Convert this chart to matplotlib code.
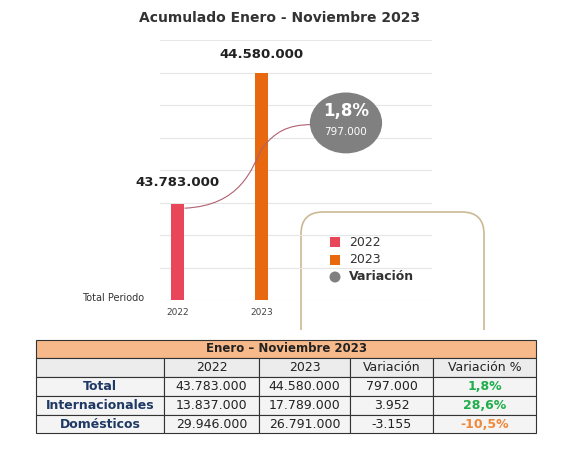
import matplotlib.pyplot as plt
from matplotlib.patches import FancyBboxPatch, Ellipse, Rectangle, PathPatch
from matplotlib.path import Path
import numpy as np

years = ['2022', '2023']
totals = [43783000, 44580000]
bar_colors = ['#e8475a', '#e8680f']
variation = 797000
variation_pct = '1,8%'

row_labels = ['Total', 'Internacionales', 'Domésticos']
col_labels = ['2022', '2023', 'Variación', 'Variación %']
v2022 = ['43.783.000', '13.837.000', '29.946.000']
v2023 = ['44.580.000', '17.789.000', '26.791.000']
var_abs = ['797.000', '3.952', '-3.155']
var_pct = ['1,8%', '28,6%', '-10,5%']
pct_colors = ['#1fae4b', '#1fae4b', '#f0883a']


def fmt(v):
    return f'{v:,}'.replace(',', '.')


fig = plt.figure(figsize=(5.71, 4.68), dpi=100)
W, H = 571, 468

def fx(px):
    return px / W

def fy(py):
    return 1 - py / H

fig.text(fx(280), fy(18), 'Acumulado Enero - Noviembre 2023', ha='center', va='center',
         fontsize=10, fontweight='bold', color='#333333')

# legend box (behind chart)
lg = fig.add_axes([0, 0, 1, 1], zorder=0)
lg.set_xlim(0, W); lg.set_ylim(H, 0); lg.axis('off')
lg.add_patch(FancyBboxPatch((301, 212), 183, 140, boxstyle='round,pad=0,rounding_size=22',
                            fc='white', ec='#cbb994', lw=1.2))

ax = fig.add_axes([fx(160), fy(300), fx(432) - fx(160), fy(40) - fy(300)], zorder=1)
ax.patch.set_alpha(0)
ylo, yhi = 43.2e6, 44.78e6
ax.set_ylim(ylo, yhi)
ax.set_xlim(-0.214, 3.024)
for g in np.linspace(ylo, yhi, 9)[1:-1]:
    ax.axhline(g, color='#e6e6e6', lw=0.8, zorder=0)
ax.axhline(yhi, color='#e6e6e6', lw=0.8, zorder=0)
ax.axhline(ylo, color='#dddddd', lw=0.8, zorder=0)
w = 0.155
ax.bar(range(2), totals, width=w, color=bar_colors, bottom=0, zorder=2)
for s in ax.spines.values():
    s.set_visible(False)
ax.set_yticks([])
ax.set_xticks(range(2))
ax.set_xticklabels(years, fontsize=6.5, color='#444444')
ax.tick_params(length=0, pad=6)
ax.text(0, totals[0] + 0.09e6, fmt(totals[0]), ha='center', va='bottom', fontsize=9.5,
        fontweight='bold', color='#222222')
ax.text(1, totals[1] + 0.07e6, fmt(totals[1]), ha='center', va='bottom', fontsize=9.5,
        fontweight='bold', color='#222222')

# connector curve and variation bubble
bx, by = 2.0, 44.276e6
verts = [(w / 2, totals[0] - 0.025e6), (0.75, totals[0] - 0.01e6), (0.88, 44.0e6), (1.0, 44.12e6),
         (1.15, 44.22e6), (1.3, by - 0.01e6), (bx - 0.4, by - 0.01e6)]
codes = [Path.MOVETO, Path.CURVE4, Path.CURVE4, Path.CURVE4, Path.CURVE4, Path.CURVE4, Path.CURVE4]
ax.add_patch(PathPatch(Path(verts, codes), fc='none', ec='#b06070', lw=0.8, zorder=3))
ax.add_patch(Ellipse((bx, by), 0.86, 0.37e6, fc='#808080', ec='none', zorder=4))
ax.text(bx, by + 0.07e6, variation_pct, ha='center', va='center', fontsize=12,
        fontweight='bold', color='white', zorder=5)
ax.text(bx, by - 0.055e6, fmt(variation), ha='center', va='center', fontsize=7.5,
        color='white', zorder=5)

fig.text(fx(82), fy(298), 'Total Periodo', fontsize=7, color='#333333', va='center')

# legend entries
for i, (lab, c) in enumerate(zip(years + ['Variación'], bar_colors + ['#808080'])):
    yy = 242 + i * 17.5
    if i < 2:
        lg.add_patch(Rectangle((330, yy - 5), 10, 10, fc=c, ec='none'))
    else:
        lg.add_patch(Ellipse((335, yy), 11, 11, fc=c, ec='none'))
    lg.text(349, yy, lab, va='center', fontsize=9, color='#333333',
            fontweight='bold' if i == 2 else 'normal')

# table
lg.add_patch(Rectangle((290, 330), 250, 115, fc='white', ec='none', zorder=5))
cols = [36, 164, 259, 350, 433, 536]
rows = [340, 358, 377, 396, 415, 433]
lg.add_patch(Rectangle((cols[0], rows[0]), cols[-1] - cols[0], rows[1] - rows[0],
                       fc='#f7b98a', ec='#333333', lw=0.8, zorder=6))
lg.text((cols[0] + cols[-1]) / 2, (rows[0] + rows[1]) / 2, 'Enero – Noviembre 2023',
        ha='center', va='center', fontsize=8.5, fontweight='bold', color='#222222', zorder=7)
table = [[''] + col_labels]
for i in range(3):
    table.append([row_labels[i], v2022[i], v2023[i], var_abs[i], var_pct[i]])
for r in range(4):
    for c in range(5):
        x0, x1 = cols[c], cols[c + 1]
        y0, y1 = rows[r + 1], rows[r + 2]
        lg.add_patch(Rectangle((x0, y0), x1 - x0, y1 - y0, fc='#ececec' if r == 0 else '#f4f4f4',
                               ec='#333333', lw=0.8, zorder=6))
        txt = table[r][c]
        color, weight = '#222222', 'normal'
        if r == 0:
            weight = 'medium'
        if r > 0 and c == 0:
            color, weight = '#1f3864', 'bold'
        if r > 0 and c == 4:
            color, weight = pct_colors[r - 1], 'bold'
        lg.text((x0 + x1) / 2, (y0 + y1) / 2, txt, ha='center', va='center', fontsize=9,
                color=color, fontweight=weight, zorder=7)

fig.savefig('out.png', dpi=100)
